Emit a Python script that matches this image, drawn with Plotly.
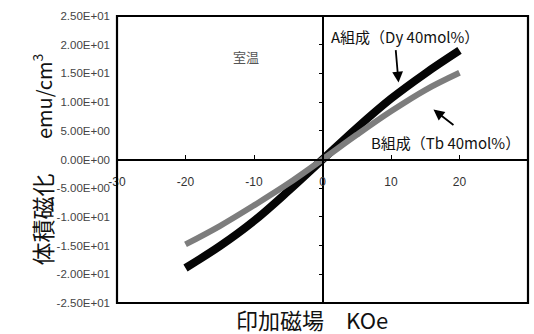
import plotly.graph_objects as go

# Applied field (kOe) and volume magnetization (emu/cm^3) at room temperature
field_koe = [-20, -15, -10, -5, 0, 5, 10, 15, 20]
mag_a_dy = [-18.9, -15.1, -10.7, -5.5, 0.0, 5.5, 10.6, 15.0, 19.0]
mag_b_tb = [-14.8, -11.6, -8.0, -4.2, 0.0, 4.3, 8.4, 12.1, 15.1]

x_ticks = [-30, -20, -10, 0, 10, 20, 30]
x_tick_text = ["-30", "-20", "-10", "0", "10", "20", "30"]
y_ticks = [25, 20, 15, 10, 5, 0, -5, -10, -15, -20, -25]
y_tick_text = ["2.50E+01", "2.00E+01", "1.50E+01", "1.00E+01", "5.00E+00",
               "0.00E+00", "-5.00E+00", "-1.00E+01", "-1.50E+01",
               "-2.00E+01", "-2.50E+01"]

LATIN = "Arial, 'Liberation Sans', 'Noto Sans CJK JP', sans-serif"
CJK = "'Noto Sans CJK JP', Arial, sans-serif"

fig = go.Figure()
fig.add_trace(go.Scatter(x=field_koe, y=mag_a_dy, mode="lines",
                         line=dict(color="#050505", width=8, shape="spline",
                                   smoothing=1.0),
                         showlegend=False, hoverinfo="skip"))
fig.add_trace(go.Scatter(x=field_koe, y=mag_b_tb, mode="lines", yaxis="y2",
                         line=dict(color="#7d7d7d", width=6, shape="spline",
                                   smoothing=1.0),
                         showlegend=False, hoverinfo="skip"))

fig.update_layout(
    width=534, height=334,
    margin=dict(l=117, r=6, t=16, b=31),
    paper_bgcolor="white", plot_bgcolor="white",
    font=dict(family=LATIN, color="#333333"),
    xaxis=dict(range=[-30, 30], anchor="free", position=0.5,
               showline=True, linecolor="black", linewidth=1.8,
               ticks="inside", ticklen=4, tickcolor="black",
               tickvals=x_ticks, ticktext=x_tick_text,
               tickfont=dict(size=12, color="#333333"),
               ticklabelstandoff=11,
               showgrid=False, zeroline=False),
    yaxis=dict(range=[-25, 25], showline=False, ticks="",
               tickvals=y_ticks, ticktext=y_tick_text,
               tickfont=dict(size=11.5, color="#444444"),
               ticklabelstandoff=6,
               showgrid=False, zeroline=False),
    yaxis2=dict(range=[-25, 25], overlaying="y", anchor="free", position=0.5,
                showline=True, linecolor="black", linewidth=1.8,
                ticks="outside", ticklen=3, tickcolor="black",
                tickvals=y_ticks, showticklabels=False,
                showgrid=False, zeroline=False),
    shapes=[dict(type="rect", xref="paper", yref="paper", x0=0, y0=0, x1=1, y1=1,
                 line=dict(color="black", width=2.2), layer="above")],
)

annotations = [
    dict(text="<span style='font-size:23px'>体積磁化</span>\u3000\u2002 emu/cm<sup>3</sup>",
         xref="paper", yref="paper",
         x=-0.231, y=0.5, textangle=-90, showarrow=False,
         font=dict(family=CJK, size=20, color="#111111")),
    dict(text="印加磁場\u3000KOe", xref="paper", yref="paper",
         x=0.474, y=-0.055, yanchor="middle", showarrow=False,
         font=dict(family=CJK, size=22, color="#111111")),
    dict(text="室温", x=-11.2, y=17.9, showarrow=False,
         font=dict(family=CJK, size=13, color="#555555")),
    dict(text="A組成（Dy 40mol%）", x=12.0, y=21.4, showarrow=False,
         font=dict(family=CJK, size=15, color="#111111")),
    dict(text="B組成（Tb 40mol%）", x=18.0, y=3.0, showarrow=False,
         font=dict(family=CJK, size=15, color="#111111")),
    dict(text=" ", x=11.1, y=13.4, ax=-3, ay=-35, showarrow=True,
         arrowhead=2, arrowsize=1.2, arrowwidth=1.8, arrowcolor="black",
         font=dict(size=2)),
    dict(text=" ", x=16.2, y=8.7, ax=22, ay=17, showarrow=True,
         arrowhead=2, arrowsize=1.2, arrowwidth=1.8, arrowcolor="black",
         font=dict(size=2)),
]
fig.update_layout(annotations=annotations)

fig.write_html("out.html")
